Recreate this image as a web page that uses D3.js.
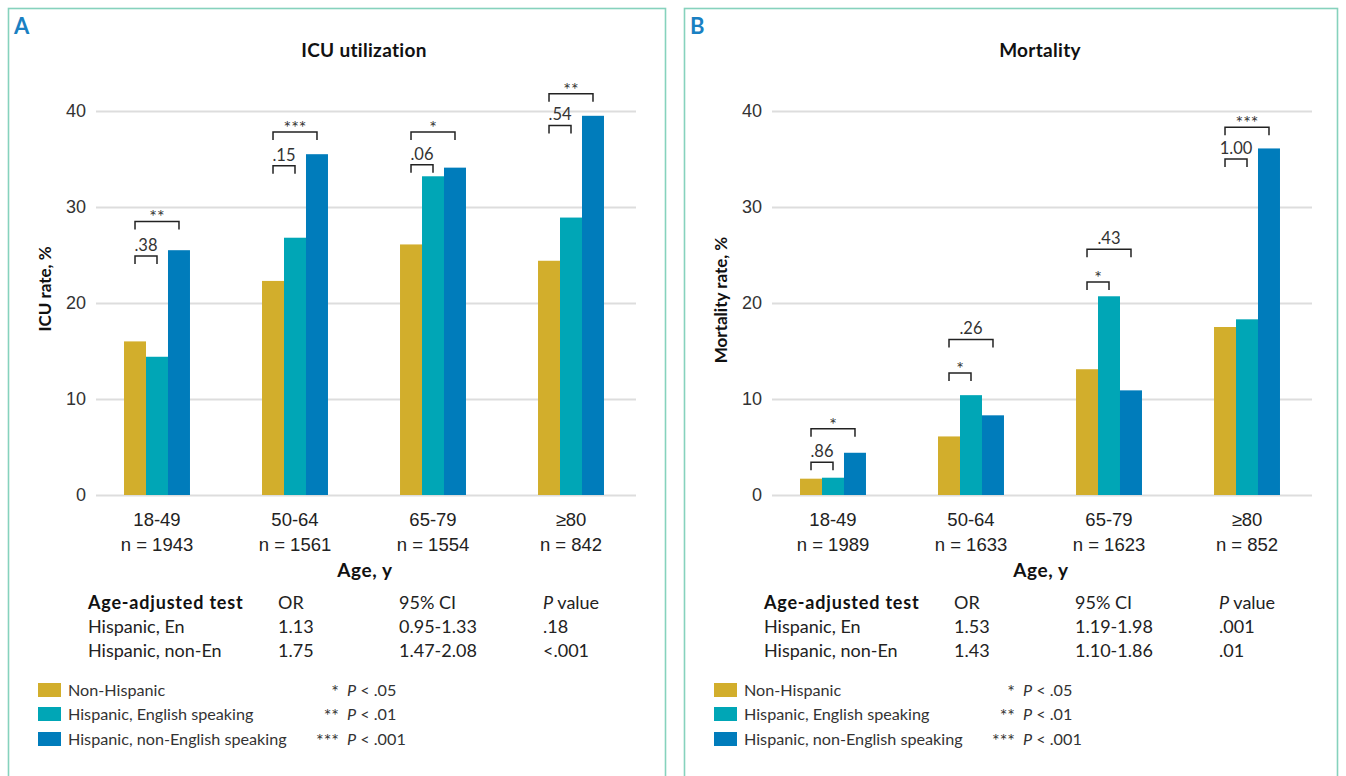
<!DOCTYPE html>
<html>
<head>
<meta charset="utf-8">
<script src="https://cdn.jsdelivr.net/npm/d3@7"></script>
<style>
  body { margin: 0; background: #fff; }
  svg { display: block; font-family: Lato, "Noto Sans", "DejaVu Sans", sans-serif; }
</style>
</head>
<body>
<svg id="chart" width="1346" height="776"></svg>
<script>
// ---- Data ----
const categories = ["18-49", "50-64", "65-79", "\u226580"];
const seriesNames = ["Non-Hispanic", "Hispanic, English speaking", "Hispanic, non-English speaking"];
const seriesColors = ["#d2ae2c", "#00a6b6", "#007cbb"];
const yTicks = [0, 10, 20, 30, 40];

// ICU utilization, %
const icuCounts = ["n = 1943", "n = 1561", "n = 1554", "n = 842"];
const icuNonHispanic = [16.0, 22.3, 26.1, 24.4];
const icuHispanicEn = [14.4, 26.8, 33.2, 28.9];
const icuHispanicNonEn = [25.5, 35.5, 34.1, 39.5];
// comparison brackets: Non-Hispanic vs Hispanic En (pair) and vs Hispanic non-En (span)
const icuPairLabels = [".38", ".15", ".06", ".54"];
const icuPairLevels = [24.9, 34.3, 34.4, 38.5];
const icuSpanLabels = ["**", "***", "*", "**"];
const icuSpanLevels = [28.5, 37.8, 37.8, 41.8];
const icuTableRows = [
  ["Hispanic, En", "1.13", "0.95-1.33", ".18"],
  ["Hispanic, non-En", "1.75", "1.47-2.08", "<.001"]
];

// Mortality, %
const mortCounts = ["n = 1989", "n = 1633", "n = 1623", "n = 852"];
const mortNonHispanic = [1.7, 6.1, 13.1, 17.5];
const mortHispanicEn = [1.8, 10.4, 20.7, 18.3];
const mortHispanicNonEn = [4.4, 8.3, 10.9, 36.1];
const mortPairLabels = [".86", "*", "*", "1.00"];
const mortPairLevels = [3.4, 12.7, 22.2, 35.0];
const mortSpanLabels = ["*", ".26", ".43", "***"];
const mortSpanLevels = [6.9, 16.2, 25.6, 38.3];
const mortTableRows = [
  ["Hispanic, En", "1.53", "1.19-1.98", ".001"],
  ["Hispanic, non-En", "1.43", "1.10-1.86", ".01"]
];

const tableHeader = ["Age-adjusted test", "OR", "95% CI", "P value"];
const sigStars = ["*", "**", "***"];
const sigThresholds = ["P < .05", "P < .01", "P < .001"];

// ---- Panels ----
const panels = [
  { letter: "A", title: "ICU utilization", yTitle: "ICU rate, %", yTitleY: 289,
    counts: icuCounts, series: [icuNonHispanic, icuHispanicEn, icuHispanicNonEn],
    pairLabels: icuPairLabels, pairLevels: icuPairLevels,
    spanLabels: icuSpanLabels, spanLevels: icuSpanLevels,
    rows: icuTableRows, dx: 0, frameW: 657 },
  { letter: "B", title: "Mortality", yTitle: "Mortality rate, %", yTitleY: 300,
    counts: mortCounts, series: [mortNonHispanic, mortHispanicEn, mortHispanicNonEn],
    pairLabels: mortPairLabels, pairLevels: mortPairLevels,
    spanLabels: mortSpanLabels, spanLevels: mortSpanLevels,
    rows: mortTableRows, dx: 676, frameW: 653 }
];

const svg = d3.select("#chart");

const y = d3.scaleLinear().domain([0, 40]).range([495, 111]);
const x = d3.scaleBand().domain(categories).range([94, 634])
  .paddingInner(0.522).paddingOuter(0.2175);
const xs = d3.scaleBand().domain(d3.range(seriesNames.length)).range([0, x.bandwidth()]);

panels.forEach(p => {
  const g = svg.append("g").attr("transform", `translate(${p.dx},0)`);

  // frame
  g.append("rect")
    .attr("x", 8.5).attr("y", 8.5)
    .attr("width", p.frameW).attr("height", 820)
    .attr("fill", "none").attr("stroke", "#86d2bd").attr("stroke-width", 1.6);

  // panel letter
  g.append("text").attr("x", 14).attr("y", 34)
    .attr("font-size", 22).attr("font-weight", 700).attr("fill", "#1a80c2")
    .text(p.letter);

  // title
  g.append("text").attr("x", 364).attr("y", 57).attr("text-anchor", "middle")
    .attr("font-size", 19).attr("font-weight", 700).attr("fill", "#111")
    .attr("letter-spacing", 0.3)
    .text(p.title);

  // y axis with gridlines
  const yAxis = g.append("g").attr("transform", "translate(96,0)")
    .call(d3.axisLeft(y).tickValues(yTicks).tickSize(-540).tickPadding(10));
  yAxis.select(".domain").remove();
  yAxis.selectAll(".tick line").attr("stroke", "#dddddd").attr("stroke-width", 2);
  yAxis.selectAll(".tick text")
    .attr("font-size", 18).attr("fill", "#333").attr("font-family", null);

  // y title
  g.append("text")
    .attr("transform", `translate(51,${p.yTitleY}) rotate(-90)`)
    .attr("text-anchor", "middle")
    .attr("font-size", 17).attr("font-weight", 700).attr("fill", "#111")
    .text(p.yTitle);

  // bars
  const groups = g.append("g").selectAll("g")
    .data(categories)
    .join("g")
    .attr("transform", d => `translate(${x(d)},0)`);

  groups.selectAll("rect")
    .data((d, i) => p.series.map((s, k) => ({ k, v: s[i] })))
    .join("rect")
    .attr("x", d => xs(d.k))
    .attr("width", xs.bandwidth())
    .attr("y", d => y(d.v))
    .attr("height", d => y(0) - y(d.v))
    .attr("fill", d => seriesColors[d.k]);

  // x axis labels (category + n)
  const xAxis = g.append("g").attr("transform", `translate(0,${y(0)})`)
    .call(d3.axisBottom(x).tickSize(0));
  xAxis.select(".domain").remove();
  xAxis.selectAll(".tick text").each(function (d, i) {
    const t = d3.select(this).text(null)
      .attr("y", 0).attr("dy", null)
      .attr("font-size", 18.5).attr("fill", "#222").attr("font-family", null);
    t.append("tspan").attr("x", 0).attr("y", 31).text(d);
    t.append("tspan").attr("x", 0).attr("y", 56).text(p.counts[i]);
  });

  g.append("text").attr("x", 365).attr("y", 577).attr("text-anchor", "middle")
    .attr("font-size", 19).attr("font-weight", 700).attr("fill", "#111")
    .attr("letter-spacing", 0.6)
    .text("Age, y");

  // comparison brackets
  const tick = 8;
  const drawBracket = (i, kFrom, kTo, level, label) => {
    const x0 = x(categories[i]) + xs(kFrom) + xs.bandwidth() / 2;
    const x1 = x(categories[i]) + xs(kTo) + xs.bandwidth() / 2;
    const yy = y(level);
    g.append("path")
      .attr("d", `M${x0},${yy + tick}V${yy}H${x1}V${yy + tick}`)
      .attr("fill", "none").attr("stroke", "#222").attr("stroke-width", 1.5);
    const isStar = label.indexOf("*") >= 0;
    g.append("text")
      .attr("x", (x0 + x1) / 2)
      .attr("y", yy + (isStar ? 2 : -5))
      .attr("text-anchor", "middle")
      .attr("font-size", isStar ? 18 : 16.5)
      .attr("fill", "#333")
      .text(label);
  };
  categories.forEach((c, i) => {
    drawBracket(i, 0, 1, p.pairLevels[i], p.pairLabels[i]);
    drawBracket(i, 0, 2, p.spanLevels[i], p.spanLabels[i]);
  });

  // age-adjusted test table
  const colX = [88, 278, 399, 543];
  const rowY = [609, 633, 657];
  const table = g.append("g").attr("font-size", 18).attr("fill", "#222");
  tableHeader.forEach((h, j) => {
    const t = table.append("text").attr("x", colX[j]).attr("y", rowY[0]);
    if (j === 0) {
      t.attr("font-weight", 700).attr("fill", "#111")
        .attr("letter-spacing", 0.8).text(h);
    } else if (h.startsWith("P ")) {
      t.append("tspan").attr("font-style", "italic").text("P");
      t.append("tspan").text(h.slice(1));
    } else {
      t.text(h);
    }
  });
  p.rows.forEach((row, r) => {
    row.forEach((cell, j) => {
      table.append("text").attr("x", colX[j]).attr("y", rowY[r + 1]).text(cell);
    });
  });

  // legend
  const legY = [690, 714, 739];
  const leg = g.append("g").attr("font-size", 16.2).attr("fill", "#333");
  seriesNames.forEach((name, k) => {
    leg.append("rect").attr("x", 38).attr("y", legY[k] - 7)
      .attr("width", 23).attr("height", 14).attr("fill", seriesColors[k]);
    leg.append("text").attr("x", 68).attr("y", legY[k] + 5.5).text(name);
    leg.append("text").attr("x", 339).attr("y", legY[k] + 7.5)
      .attr("font-size", 18)
      .attr("text-anchor", "end").text(sigStars[k]);
    const t = leg.append("text").attr("x", 347).attr("y", legY[k] + 5.5);
    t.append("tspan").attr("font-style", "italic").text("P");
    t.append("tspan").text(sigThresholds[k].slice(1));
  });
});
</script>
</body>
</html>
